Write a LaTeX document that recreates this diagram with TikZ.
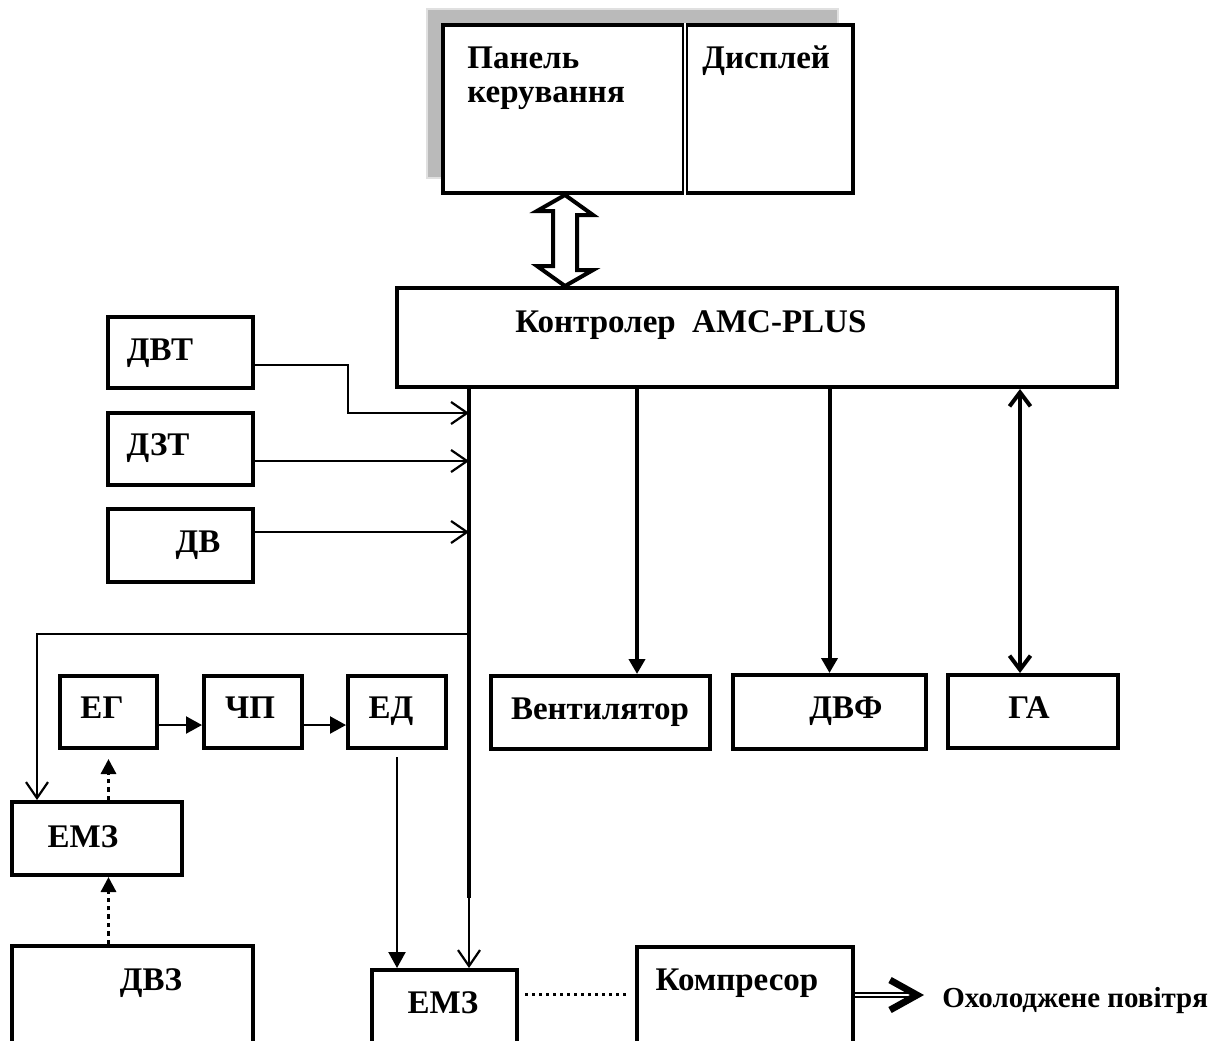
\documentclass[tikz,border=0pt]{standalone}
\usepackage{fontspec}
\setmainfont{Liberation Serif}
\usepackage{tikz}
\usetikzlibrary{arrows.meta, fit, calc}
\colorlet{shadowgray}{black!27}
\colorlet{shadowedge}{black!12}
\newcommand{\lblfont}{\fontsize{16.5}{17}\selectfont\bfseries}
\newcommand{\airfont}{\fontsize{14.5}{16}\selectfont\bfseries}
\tikzset{
  blk/.style={draw, line width=2pt, fill=white, inner sep=0pt},
  shadowbox/.style={draw=shadowedge, line width=0.8pt, fill=shadowgray, inner sep=0pt},
  lbl/.style={font=\lblfont, inner sep=0pt, anchor=base},
  sig/.style={line width=1.1pt, -{Straight Barb[length=8pt, width=11pt]}},
  flow/.style={line width=1.1pt, -{Triangle[length=8pt, width=8.5pt]}},
  fat/.style={line width=2pt, -{Triangle[length=7.5pt, width=8pt]}},
  twoway/.style={line width=2pt, {Straight Barb[length=7pt, width=10.5pt]}-{Straight Barb[length=7pt, width=10.5pt]}},
  dotarr/.style={line width=1.6pt, dash pattern=on 2.2pt off 2pt, -{Triangle[length=7.5pt, width=7.5pt]}},
  dotline/.style={line width=1.5pt, dash pattern=on 1.3pt off 2.2pt},
  busline/.style={line width=2pt},
  dblline/.style={double, double distance=1.2pt, line width=0.8pt},
  chev/.style={line width=3.4pt, line join=miter},
}

\begin{document}
\begin{tikzpicture}[x=0.5pt, y=-0.5pt]
    \useasboundingbox (0,0) rectangle (1229,1040);
    \clip (0,0) rectangle (1229,1040);

    % Control panel and display
    \node[shadowbox, fit={(427,9) (838,178)}] (shadow) {};
    \node[blk, fit={(443,25) (853,193)}] (panel) {};
    \draw[double, double distance=1.4pt, line width=0.8pt] (panel.north -| 685,0) -- (panel.south -| 685,0);
    \node[lbl, anchor=north west, align=left] (panel-t) at (467,46) {Панель\\керування};
    \node[lbl, anchor=base west] (disp-t) at (702,68) {Дисплей};

    % Controller
    \node[blk, fit={(397,288) (1117,387)}] (ctrl) {};
    \node[lbl, anchor=base west] (ctrl-t) at (515,332) {Контролер~~AMC-PLUS};
    \draw[line width=2pt, line join=miter, fill=white] (panel.south -| 565,0) -- ++(28,20) -- ++(-16,0) -- ++(0,55) -- ++(16,0)
      -- (ctrl.north -| 565,0) -- ++(-28,-20) -- ++(16,0) -- ++(0,-55) -- ++(-16,0) -- cycle;

    % Sensors
    \node[blk, fit={(108,317) (253,388)}] (dvt) {};
    \node[lbl] (dvt-t) at (160,360) {ДВТ};
    \node[blk, fit={(108,413) (253,485)}] (dzt) {};
    \node[lbl] (dzt-t) at (158,455) {ДЗТ};
    \node[blk, fit={(108,509) (253,582)}] (dv) {};
    \node[lbl] (dv-t) at (198,552) {ДВ};

    % Bus
    \coordinate (bus-top) at (ctrl.south -| 469,0);
    \coordinate (bus-low) at (469,898);
    \draw[busline] (bus-top) -- (bus-low);
    \draw[sig] (dvt.east |- 0,365) -| (348,413) -- (bus-top |- 0,413);
    \draw[sig] (dzt.east |- 0,461) -- (bus-top |- 0,461);
    \draw[sig] (dv.east |- 0,532) -- (bus-top |- 0,532);

    % Actuators
    \node[blk, fit={(491,676) (710,749)}] (vent) {};
    \node[lbl] (vent-t) at (600,719) {Вентилятор};
    \node[blk, fit={(733,675) (926,749)}] (dvf) {};
    \node[lbl] (dvf-t) at (846,718) {ДВФ};
    \node[blk, fit={(948,675) (1118,748)}] (ga) {};
    \node[lbl] (ga-t) at (1029,718) {ГА};
    \draw[fat] (ctrl.south -| 637,0) -- (vent.north -| 637,0);
    \draw[fat] (ctrl.south -| dvf.north) -- (dvf.north);
    \draw[twoway] (ctrl.south -| 1020,0) -- (ga.north -| 1020,0);

    % Generator chain
    \node[blk, fit={(60,676) (157,748)}] (eg) {};
    \node[lbl] (eg-t) at (102,718) {ЕГ};
    \node[blk, fit={(204,676) (302,748)}] (chp) {};
    \node[lbl] (chp-t) at (250,718) {ЧП};
    \node[blk, fit={(348,676) (446,748)}] (ed) {};
    \node[lbl] (ed-t) at (391,718) {ЕД};
    \draw[flow] (eg.east |- 0,725) -- (chp.west |- 0,725);
    \draw[flow] (chp.east |- 0,725) -- (ed.west |- 0,725);

    % Engine side
    \node[blk, fit={(12,802) (182,875)}] (emz1) {};
    \node[lbl] (emz1-t) at (83,847) {ЕМЗ};
    \node[blk, fit={(12,946) (253,1060)}] (dvz) {};
    \node[lbl] (dvz-t) at (151,990) {ДВЗ};
    \draw[sig] (bus-top |- 0,634) -| (emz1.north -| 37,0);
    \draw[dotarr, shorten >=4.5pt] (emz1.north -| eg.south) -- (eg.south);
    \draw[dotarr] (dvz.north -| eg.south) -- (emz1.south -| eg.south);

    % Compressor drive
    \node[blk, fit={(372,970) (517,1060)}] (emz2) {};
    \node[lbl] (emz2-t) at (443,1013) {ЕМЗ};
    \node[blk, fit={(637,947) (853,1060)}] (comp) {};
    \node[lbl] (comp-t) at (737,990) {Компресор};
    \draw[flow, shorten <=3.5pt] (ed.south) -- (emz2.north -| ed.south);
    \draw[sig] (bus-low) -- (emz2.north -| bus-low);
    \draw[dotline, shorten <=3pt, shorten >=3.5pt] (emz2.east |- 0,994) -- (comp.west |- 0,994);

    % Output
    \node[lbl, anchor=base west, font=\airfont] (air) at (942,1007) {Охолоджене повітря};
    \draw[dblline, shorten >=12pt] (comp.east |- 0,995) -- (air.west |- 0,995);
    \draw[chev] ($(air.west |- 0,995)+(-52,-15)$) -- ++(27,15) -- ++(-27,15);
\end{tikzpicture}
\end{document}
